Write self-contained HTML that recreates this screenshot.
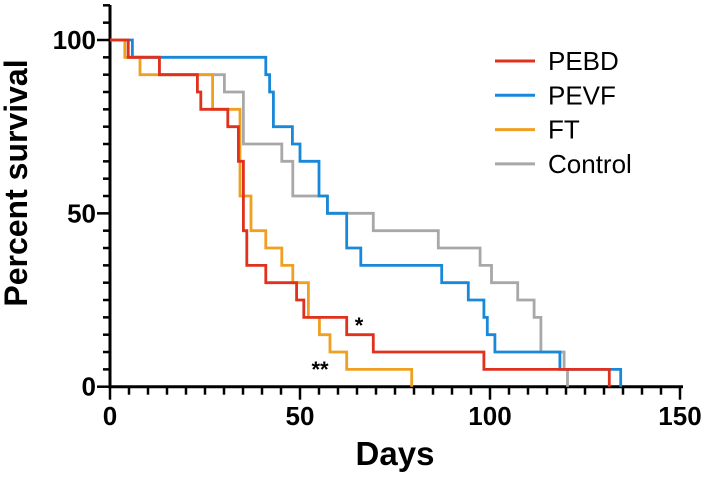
<!DOCTYPE html>
<html><head><meta charset="utf-8"><style>
html,body{margin:0;padding:0;background:#fff;}
svg{display:block;font-family:"Liberation Sans",Arial,sans-serif;}
</style></head><body>
<svg id="chart" width="708" height="478" viewBox="0 0 708 478">
<g id="axes"></g>
<g id="series"></g>
<text x="359" y="333" font-size="22" font-weight="bold" text-anchor="middle">*</text>
<text x="320" y="377" font-size="22" font-weight="bold" text-anchor="middle">**</text>
<text x="395" y="465" font-size="33" font-weight="bold" text-anchor="middle">Days</text>
<text transform="translate(27,183) rotate(-90)" font-size="32" font-weight="bold" text-anchor="middle">Percent survival</text>
<g id="legend"></g>
</svg>
<script>
const seriesNames = ["PEBD","PEVF","FT","Control"];
const seriesColors = ["#e0301e","#1a88d8","#f0a020","#a8a8a8"];
const pebdTimes = [4.8,13,23,23.9,31,33.8,35.1,36,41,49.1,51,62.3,69.3,98.4,131.4];
const pebdSurv  = [95,90,85,80,75,65,45,35,30,25,20,15,10,5,0];
const pevfTimes = [5.9,41,42,43,48,50,55,57.2,62.3,66,87.3,94.3,98.4,99.3,101.3,118.4,134.4];
const pevfSurv  = [95,90,85,75,70,65,55,50,40,35,30,25,20,15,10,5,0];
const ftTimes = [3.9,7.9,27,34.2,37.1,41,45.2,48.1,52.2,55.1,57.9,62.3,79.4];
const ftSurv  = [95,90,80,55,45,40,35,30,20,15,10,5,0];
const ctrlTimes = [4.8,13,30.1,35.1,45.2,48.1,57.2,69.3,86.4,97.4,100.4,107.3,111.6,113.4,119.5,120.4];
const ctrlSurv  = [95,90,85,70,65,55,50,45,40,35,30,25,20,10,5,0];
const xTicks = [0,50,100,150];
const yTicks = [0,50,100];

const NS="http://www.w3.org/2000/svg";
const x = d => 110 + d*3.8;
const y = p => 386.7 - p*3.467;
function mk(tag, attrs, parent){const e=document.createElementNS(NS,tag);for(const k in attrs)e.setAttribute(k,attrs[k]);parent.appendChild(e);return e;}
const axes=document.getElementById('axes');
const ser=document.getElementById('series');
const leg=document.getElementById('legend');

const allT=[pebdTimes,pevfTimes,ftTimes,ctrlTimes];
const allS=[pebdSurv,pevfSurv,ftSurv,ctrlSurv];
const order=[3,1,2,0];
order.forEach(i=>{
  let d="M"+x(0)+","+y(100);
  allT[i].forEach((t,j)=>{d+=" H"+x(t).toFixed(1)+" V"+y(allS[i][j]).toFixed(1);});
  const p=mk('path',{d:d,fill:'none',stroke:seriesColors[i],'stroke-width':2.8},ser);
  
  
});

const ya=mk('line',{x1:110,y1:5,x2:110,y2:y(0)+1.5,stroke:'#000','stroke-width':3},axes);


const xa=mk('line',{x1:108.5,y1:y(0),x2:683,y2:y(0),stroke:'#000','stroke-width':3},axes);


for(let p=0;p<=110;p+=5){
  const major=p%50===0;
  const t=mk('line',{x1:major?97:103,y1:y(p),x2:110,y2:y(p),stroke:'#000','stroke-width':2.5},axes);
  
  
}
for(let d=0;d<=150;d+=5){
  const major=d%50===0;
  const t=mk('line',{x1:x(d),y1:y(0),x2:x(d),y2:y(0)+(major?13:8),stroke:'#000','stroke-width':2.5},axes);
  
  
}
yTicks.forEach(v=>{
  const t=mk('text',{x:96,y:y(v)+9,'font-size':26,'font-weight':'bold','text-anchor':'end'},axes);
  t.textContent=v;
  
  
});
xTicks.forEach(v=>{
  const t=mk('text',{x:x(v),y:425,'font-size':26,'font-weight':'bold','text-anchor':'middle'},axes);
  t.textContent=v;
  
  
});
seriesNames.forEach((n,i)=>{
  const yy=61+i*34.3;
  const l=mk('line',{x1:495,y1:yy,x2:535,y2:yy,stroke:seriesColors[i],'stroke-width':3},leg);
  
  
  const t=mk('text',{x:548,y:yy+9,'font-size':26,fill:'#000'},leg);
  t.textContent=n;
  
  
});
</script>
</body></html>
